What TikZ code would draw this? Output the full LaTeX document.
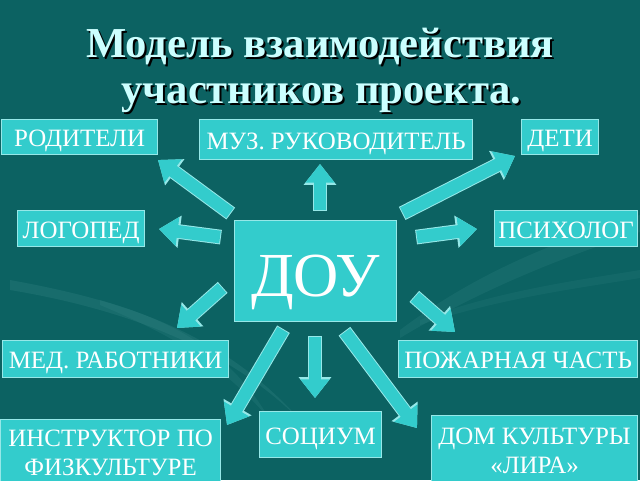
\documentclass[tikz,border=0pt]{standalone}
\usepackage{fontspec}
\setmainfont{Liberation Serif}
\usetikzlibrary{arrows.meta}
\definecolor{bgc}{RGB}{12,98,98}
\definecolor{boxc}{RGB}{51,204,204}
\definecolor{edgec}{RGB}{150,232,232}
\definecolor{titlec}{RGB}{204,255,255}
\definecolor{swirl}{RGB}{60,140,140}
\newcommand\lowtext[2]{\raisebox{-#1}[0pt][0pt]{#2}}
\begin{document}
\begin{tikzpicture}[x=0.75pt,y=-0.75pt,
  lbl/.style={draw=edgec, line width=0.9pt, fill=boxc, text=white, inner sep=0pt,
    anchor=north west, font=\fontsize{18.7}{21.75}\selectfont},
  bw/.style={minimum width={(#1)*0.75pt}},
  bh/.style={minimum height={(#1)*0.75pt}},
  barrow/.style={draw=boxc, line width=9.5pt,
    -{Triangle[length=14pt,width=21pt]},
    preaction={draw=edgec, line width=11pt, shorten <=-0.7pt,
      -{Triangle[length=15.6pt,width=23.4pt]}}},
  ttl/.style={anchor=base, font=\fontsize{32}{36}\selectfont\bfseries, text=titlec, inner sep=0pt},
  ttlsh/.style={anchor=base, font=\fontsize{32}{36}\selectfont\bfseries, text=black, inner sep=0pt}
]
\useasboundingbox (0,0) rectangle (640,480);
\fill[bgc] (0,0) rectangle (640,480);
% faint background swirls
\fill[swirl, opacity=0.25] (10,280) .. controls (120,300) and (220,330) .. (300,420)
  .. controls (230,350) and (130,310) .. (10,290) -- cycle;
\fill[swirl, opacity=0.2] (100,300) .. controls (170,320) and (230,350) .. (270,420)
  .. controls (220,360) and (160,330) .. (100,305) -- cycle;
\fill[swirl, opacity=0.2] (400,330) .. controls (480,270) and (560,240) .. (640,215)
  -- (640,232) .. controls (560,258) and (480,290) .. (400,338) -- cycle;
\fill[swirl, opacity=0.15] (420,320) .. controls (500,290) and (580,280) .. (640,270)
  -- (640,278) .. controls (580,288) and (500,298) .. (420,325) -- cycle;

% title
\node[ttlsh] (t1s) at (322,59) {Модель взаимодействия};
\node[ttlsh] (t2s) at (323.5,105) {участников проекта.};
\node[ttl] (t1) at (320,57) {Модель взаимодействия};
\node[ttl] (t2) at (321.5,103) {участников проекта.};

% boxes
\node[lbl, bw=156, bh=35] (rod) at (1,119) {\lowtext{7.4pt}{РОДИТЕЛИ}};
\node[lbl, bw=273, bh=40] (muz) at (199,119) {\lowtext{7.4pt}{МУЗ. РУКОВОДИТЕЛЬ}};
\node[lbl, bw=77, bh=35] (deti) at (521,119) {\lowtext{7.4pt}{ДЕТИ}};
\node[lbl, bw=127, bh=36] (logo) at (17,210) {\lowtext{7.4pt}{ЛОГОПЕД}};
\node[lbl, bw=143, bh=36] (psih) at (494,210) {\lowtext{7.4pt}{ПСИХОЛОГ}};
\node[lbl, bw=162, bh=101, font=\fontsize{47}{52}\selectfont] (dou) at (234,220)
  {\lowtext{18.8pt}{ДОУ}};
\node[lbl, bw=226, bh=37] (med) at (2,340) {\lowtext{7.4pt}{МЕД. РАБОТНИКИ}};
\node[lbl, bw=239, bh=37] (pozh) at (398,340) {\lowtext{7.4pt}{ПОЖАРНАЯ ЧАСТЬ}};
\node[lbl, bw=220, bh=65] (instr) at (0,419)
  {\lowtext{6.5pt}{\begin{tabular}{@{}c@{}}ИНСТРУКТОР ПО\\ФИЗКУЛЬТУРЕ\end{tabular}}};
\node[lbl, bw=122, bh=46] (soc) at (259,411) {\lowtext{7.4pt}{СОЦИУМ}};
\node[lbl, bw=206, bh=69] (dom) at (431,415)
  {\lowtext{6.5pt}{\begin{tabular}{@{}c@{}}ДОМ КУЛЬТУРЫ\\«ЛИРА»\end{tabular}}};

% arrow end points
\coordinate (a1t) at (230,213); \coordinate (a1h) at (158,160);
\coordinate (a2t) at (320,210); \coordinate (a2h) at (320,164);
\coordinate (a3t) at (403,213); \coordinate (a3h) at (515,156);
\coordinate (a4t) at (220,237); \coordinate (a4h) at (159,229);
\coordinate (a5t) at (417,237); \coordinate (a5h) at (477,229);
\coordinate (a6t) at (222,288); \coordinate (a6h) at (177,328);
\coordinate (a7t) at (283,330); \coordinate (a7h) at (227,425);
\coordinate (a8t) at (315,337); \coordinate (a8h) at (315,398);
\coordinate (a9t) at (345,332); \coordinate (a9h) at (417,428);
\coordinate (a10t) at (415,297); \coordinate (a10h) at (455,332);

\draw[barrow] (a1t) -- (a1h);
\draw[barrow] (a2t) -- (a2h);
\draw[barrow] (a3t) -- (a3h);
\draw[barrow] (a4t) -- (a4h);
\draw[barrow] (a5t) -- (a5h);
\draw[barrow] (a6t) -- (a6h);
\draw[barrow] (a7t) -- (a7h);
\draw[barrow] (a8t) -- (a8h);
\draw[barrow] (a9t) -- (a9h);
\draw[barrow] (a10t) -- (a10h);
\end{tikzpicture}
\end{document}
